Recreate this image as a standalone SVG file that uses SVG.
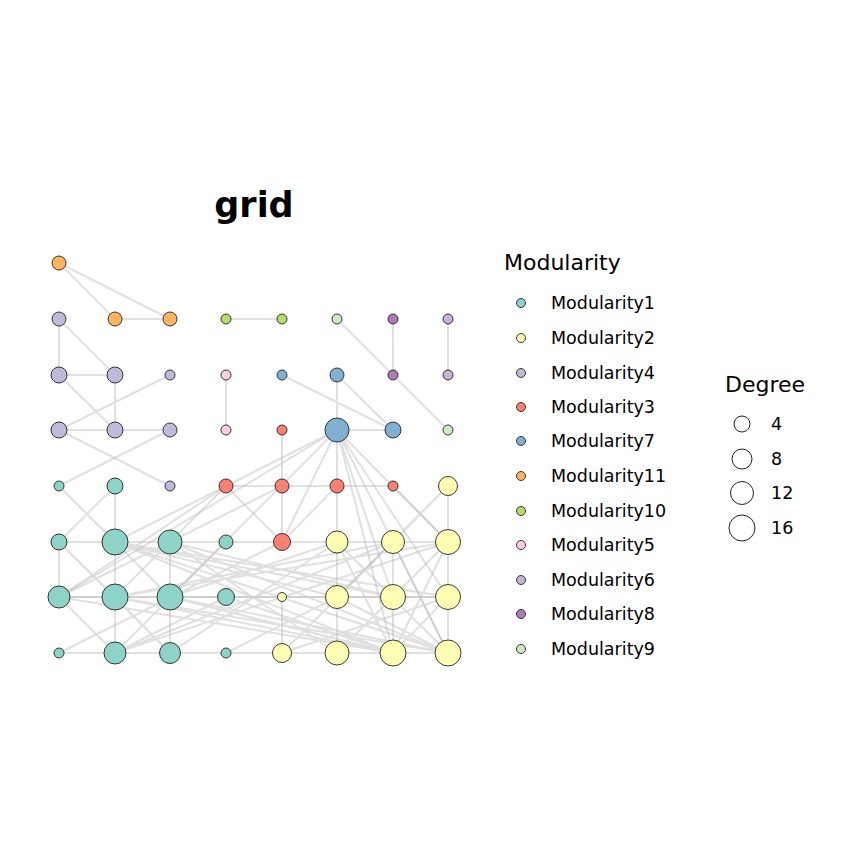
<svg xmlns="http://www.w3.org/2000/svg" width="864" height="864" viewBox="0 0 864 864">
<style>
.e{stroke:#bbbbbb;stroke-opacity:0.45;stroke-width:2;fill:none}
.n circle{stroke:#222;stroke-width:0.9}
.m1{fill:#8DD3C7}.m2{fill:#FFFFB3}.m4{fill:#BEBADA}.m3{fill:#FB8072}.m7{fill:#80B1D3}.m11{fill:#FDB462}.m10{fill:#B3DE69}.m5{fill:#FCCDE5}.m6{fill:#CAB2D6}.m8{fill:#B07AB8}.m9{fill:#CCEBC5}
text{font-family:"DejaVu Sans",sans-serif;fill:#000}
.lg{font-size:17.5px}
.ttl{font-size:22px}
</style>
<rect width="864" height="864" fill="#fff"/>
<text x="254" y="217" text-anchor="middle" style="font-size:35px;font-weight:bold">grid</text>
<g id="edges">
<path class="e" d="M59,263L170,319M59,263L115,319M115,319L170,319M226,319L282,319M337,319L448,430M393,319L393,375M448,319L448,375M59,319L59,375M59,319L115,375M59,375L115,375M115,375L115,430M59,375L115,430M170,375L59,430M226,375L226,430M282,375L393,430M337,375L337,430M337,375L393,430M59,430L115,430M115,430L170,430M337,430L393,430M282,430L282,486M59,430L170,486"/>
<path class="e" d="M337,430L337,486M337,430L226,486M337,430L115,542M337,430L170,597M337,430L393,597M337,430L448,653M337,430L393,653M337,430L448,597M337,430L448,542M337,430L282,542M337,430L59,597"/>
<path class="e" d="M226,486L282,486M282,486L337,486M337,486L393,486M282,486L282,542M337,486L282,542M226,486L282,542M393,486L448,542M337,486L337,542M115,486L115,542M115,486L59,542M59,486L170,597M448,486L448,542M448,486L337,597M448,486L393,542"/>
<path class="e" d="M59,542L115,542M115,542L170,542M170,542L226,542M226,542L282,542M282,542L337,542M337,542L393,542M393,542L448,542M59,542L59,597M115,542L115,597M170,542L170,597M337,542L337,597M393,542L393,597M448,542L448,597M59,597L115,597M115,597L170,597M170,597L226,597M226,597L282,597M282,597L337,597M337,597L393,597M393,597L448,597M115,597L115,653M170,597L170,653M282,597L282,653M337,597L337,653M393,597L393,653M448,597L448,653M59,653L115,653M115,653L170,653M170,653L226,653M226,653L282,653M282,653L337,653M337,653L393,653M393,653L448,653"/>
<path class="e" d="M115,542L448,653M115,542L393,653M115,542L448,597M115,542L337,597M115,542L393,597M170,542L448,653M170,542L393,597M170,542L337,653M115,597L448,653M115,597L393,653M115,597L448,542M115,597L393,542M170,597L448,653M170,597L393,653M170,597L448,597M170,597L337,542M59,597L393,653M59,597L448,597M59,597L115,653M59,597L170,542M59,542L170,653M59,542L115,597M115,653L393,542M115,653L448,542M170,653L337,542M170,653L115,597M59,653L282,542M226,597L115,653M226,542L115,653M226,542L170,597M226,597L393,653M226,653L337,597M282,653L393,542M282,653L448,597M337,653L448,542M337,653L393,597M393,653L448,597M337,542L448,653M337,597L448,653M393,542L448,653M337,542L393,653M393,597L337,653M448,542L393,653M337,597L393,542M282,486L170,542M226,486L115,597M170,430L59,486M226,486L59,597"/>
</g>
<g id="nodes">
<g id="n00" class="n"><circle class="m11" cx="59" cy="263" r="7"/></g>
<g id="n10" class="n"><circle class="m4" cx="59" cy="319" r="7"/><circle class="m11" cx="115" cy="319" r="7"/><circle class="m11" cx="170" cy="319" r="7"/><circle class="m10" cx="226" cy="319" r="5"/><circle class="m10" cx="282" cy="319" r="5"/><circle class="m9" cx="337" cy="319" r="5"/><circle class="m8" cx="393" cy="319" r="5"/><circle class="m6" cx="448" cy="319" r="5"/></g>
<g id="n20" class="n"><circle class="m4" cx="59" cy="375" r="8"/><circle class="m4" cx="115" cy="375" r="8"/><circle class="m4" cx="170" cy="375" r="5"/><circle class="m5" cx="226" cy="375" r="5"/><circle class="m7" cx="282" cy="375" r="5"/><circle class="m7" cx="337" cy="375" r="7"/><circle class="m8" cx="393" cy="375" r="5"/><circle class="m6" cx="448" cy="375" r="5"/></g>
<g id="n30" class="n"><circle class="m4" cx="59" cy="430" r="8"/><circle class="m4" cx="115" cy="430" r="8"/><circle class="m4" cx="170" cy="430" r="7"/><circle class="m5" cx="226" cy="430" r="5"/><circle class="m3" cx="282" cy="430" r="5"/><circle class="m7" cx="337" cy="430" r="12"/><circle class="m7" cx="393" cy="430" r="8"/><circle class="m9" cx="448" cy="430" r="5"/></g>
<g id="n40" class="n"><circle class="m1" cx="59" cy="486" r="5"/><circle class="m1" cx="115" cy="486" r="8"/><circle class="m4" cx="170" cy="486" r="5"/><circle class="m3" cx="226" cy="486" r="7"/><circle class="m3" cx="282" cy="486" r="7"/><circle class="m3" cx="337" cy="486" r="7"/><circle class="m3" cx="393" cy="486" r="5"/><circle class="m2" cx="448" cy="486" r="9.5"/></g>
<g id="n50" class="n"><circle class="m1" cx="59" cy="542" r="8"/><circle class="m1" cx="115" cy="542" r="13"/><circle class="m1" cx="170" cy="542" r="12"/><circle class="m1" cx="226" cy="542" r="7"/><circle class="m3" cx="282" cy="542" r="8.5"/><circle class="m2" cx="337" cy="542" r="11"/><circle class="m2" cx="393" cy="542" r="11.5"/><circle class="m2" cx="448" cy="542" r="12.5"/></g>
<g id="n60" class="n"><circle class="m1" cx="59" cy="597" r="11"/><circle class="m1" cx="115" cy="597" r="13"/><circle class="m1" cx="170" cy="597" r="13"/><circle class="m1" cx="226" cy="597" r="8.5"/><circle class="m2" cx="282" cy="597" r="4.5"/><circle class="m2" cx="337" cy="597" r="11.5"/><circle class="m2" cx="393" cy="597" r="12.5"/><circle class="m2" cx="448" cy="597" r="12.5"/></g>
<g id="n70" class="n"><circle class="m1" cx="59" cy="653" r="5"/><circle class="m1" cx="115" cy="653" r="11"/><circle class="m1" cx="170" cy="653" r="10.5"/><circle class="m1" cx="226" cy="653" r="5"/><circle class="m2" cx="282" cy="653" r="9.5"/><circle class="m2" cx="337" cy="653" r="12"/><circle class="m2" cx="393" cy="653" r="13"/><circle class="m2" cx="448" cy="653" r="13"/></g>
</g>
<g id="legend-mod" class="n">
<text class="ttl" x="504" y="270">Modularity</text>
<circle class="m1" cx="521" cy="303" r="4.5"/><text class="lg" x="551" y="309">Modularity1</text>
<circle class="m2" cx="521" cy="338" r="4.5"/><text class="lg" x="551" y="344">Modularity2</text>
<circle class="m4" cx="521" cy="373" r="4.5"/><text class="lg" x="551" y="379">Modularity4</text>
<circle class="m3" cx="521" cy="407" r="4.5"/><text class="lg" x="551" y="413">Modularity3</text>
<circle class="m7" cx="521" cy="441" r="4.5"/><text class="lg" x="551" y="447">Modularity7</text>
<circle class="m11" cx="521" cy="476" r="4.5"/><text class="lg" x="551" y="482">Modularity11</text>
<circle class="m10" cx="521" cy="511" r="4.5"/><text class="lg" x="551" y="517">Modularity10</text>
<circle class="m5" cx="521" cy="545" r="4.5"/><text class="lg" x="551" y="551">Modularity5</text>
<circle class="m6" cx="521" cy="580" r="4.5"/><text class="lg" x="551" y="586">Modularity6</text>
<circle class="m8" cx="521" cy="614" r="4.5"/><text class="lg" x="551" y="620">Modularity8</text>
<circle class="m9" cx="521" cy="649" r="4.5"/><text class="lg" x="551" y="655">Modularity9</text>
</g>
<g id="legend-deg">
<text class="ttl" x="725" y="392">Degree</text>
<circle cx="742" cy="424" r="8" fill="none" stroke="#222"/><text class="lg" x="771" y="430">4</text>
<circle cx="742" cy="459" r="10" fill="none" stroke="#222"/><text class="lg" x="771" y="465">8</text>
<circle cx="742" cy="493" r="11.5" fill="none" stroke="#222"/><text class="lg" x="771" y="499">12</text>
<circle cx="742" cy="528" r="13" fill="none" stroke="#222"/><text class="lg" x="771" y="534">16</text>
</g>
</svg>
